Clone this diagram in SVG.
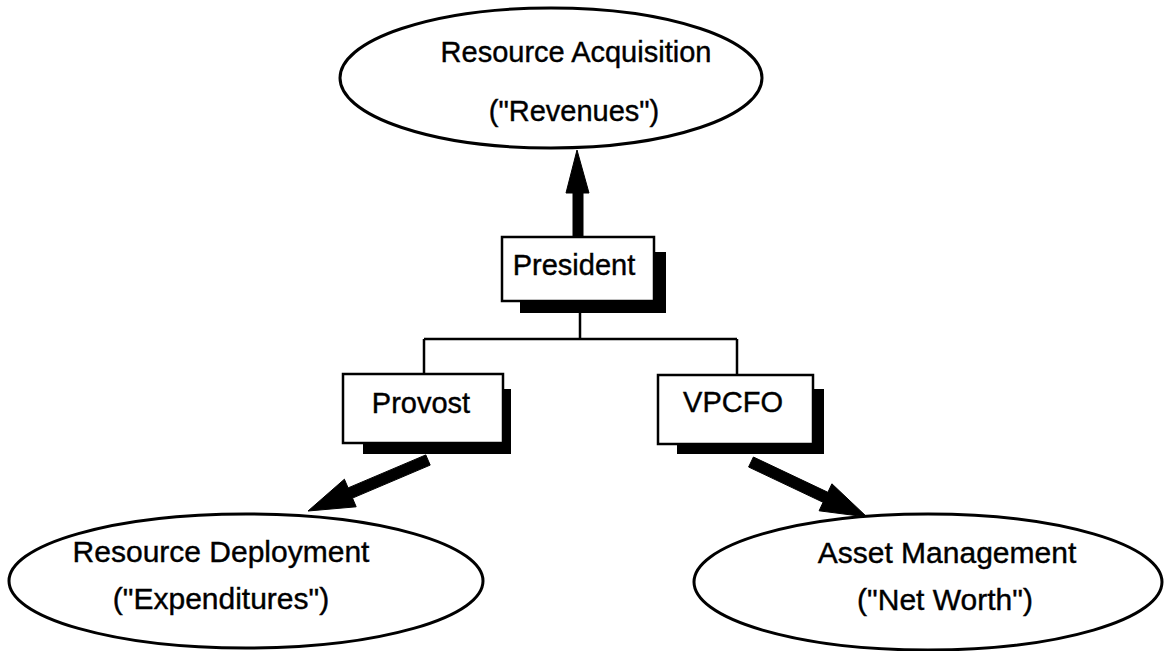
<svg xmlns="http://www.w3.org/2000/svg" width="1164" height="651" viewBox="0 0 1164 651">
  <style>
    .oval { fill: #fff; stroke: #000; stroke-width: 3; }
    .box { fill: #fff; stroke: #000; stroke-width: 2.5; }
    .shadow { fill: #000; }
    .lbl { font-family: "Liberation Sans", Arial, sans-serif; font-size: 29px; fill: #000; stroke: #000; stroke-width: 0.4; text-anchor: middle; }
    .big { font-size: 30px; }
    .wire { fill: none; stroke: #000; stroke-width: 2.5; }
    .thick { fill: #000; stroke: #000; stroke-width: 1; stroke-linejoin: round; }
  </style>
  <rect width="1164" height="651" fill="#fff"/>

  <!-- tree connectors and thick flow arrows -->
  <g id="connectors">
    <path class="wire" d="M580 310 V339 M424 339 H737 M424 339 V374 M737 339 V375"/>
    <!-- President up to Resource Acquisition -->
    <polygon class="thick" points="573,238 583,238 583,193 589,193 577,150 566,193 573,193"/>
    <!-- Provost down-left to Resource Deployment -->
    <polygon class="thick" points="425.8,454.9 430.2,465.1 352.5,498.1 356.2,506.8 308,511 344.4,479.2 348.1,487.9"/>
    <!-- VPCFO down-right to Asset Management -->
    <polygon class="thick" points="753.4,457 748.6,467 823.1,502.3 819.1,510.8 867,517 831.9,483.8 827.9,492.3"/>
  </g>

  <g id="resource-acquisition">
    <ellipse class="oval" cx="551" cy="78" rx="211" ry="70"/>
    <text class="lbl" x="576" y="62">Resource Acquisition</text>
    <text class="lbl" x="574" y="121">("Revenues")</text>
  </g>

  <g id="president">
    <path class="shadow" d="M654 252 H666 V313 H520 V301 H654 Z"/>
    <rect class="box" x="502" y="237" width="152" height="64"/>
    <text class="lbl" x="574" y="275">President</text>
  </g>

  <g id="provost">
    <path class="shadow" d="M503 389 H511 V454 H363 V443 H503 Z"/>
    <rect class="box" x="343" y="374" width="160" height="69"/>
    <text class="lbl" x="421" y="413">Provost</text>
  </g>

  <g id="vpcfo">
    <path class="shadow" d="M813 389 H824 V454 H677 V444 H813 Z"/>
    <rect class="box" x="658" y="375" width="155" height="69"/>
    <text class="lbl" x="733" y="412">VPCFO</text>
  </g>

  <g id="resource-deployment">
    <ellipse class="oval" cx="246" cy="581" rx="237" ry="67"/>
    <text class="lbl big" x="221" y="562">Resource Deployment</text>
    <text class="lbl big" x="221" y="609">("Expenditures")</text>
  </g>

  <g id="asset-management">
    <ellipse class="oval" cx="928" cy="582" rx="234" ry="68"/>
    <text class="lbl big" x="947" y="563">Asset Management</text>
    <text class="lbl big" x="945" y="610">("Net Worth")</text>
  </g>
</svg>
